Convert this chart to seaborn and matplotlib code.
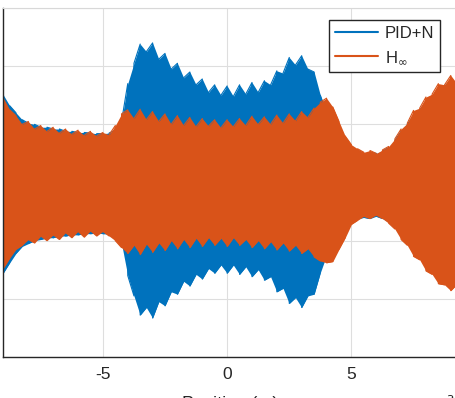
import numpy as np
import pandas as pd
import seaborn as sns
import matplotlib.pyplot as plt

# position (x 1e-3 m) and envelope of the two responses
pos = [-9.0, -8.75, -8.5, -8.25, -8.0, -7.75, -7.5, -7.25, -7.0, -6.75,
       -6.5, -6.25, -6.0, -5.75, -5.5, -5.25, -5.0, -4.75, -4.5, -4.25,
       -4.0, -3.75, -3.5, -3.25, -3.0, -2.75, -2.5, -2.25, -2.0, -1.75,
       -1.5, -1.25, -1.0, -0.75, -0.5, -0.25, 0.0, 0.25, 0.5, 0.75,
       1.0, 1.25, 1.5, 1.75, 2.0, 2.25, 2.5, 2.75, 3.0, 3.25,
       3.5, 3.75, 4.0, 4.25, 4.5, 4.75, 5.0, 5.25, 5.5, 5.75,
       6.0, 6.25, 6.5, 6.75, 7.0, 7.25, 7.5, 7.75, 8.0, 8.25,
       8.5, 8.75, 9.0, 9.25]

pid_upper = [1.50, 1.32, 1.20, 1.08, 1.02, 1.00, 0.95, 0.95, 0.92, 0.92,
             0.88, 0.88, 0.86, 0.86, 0.85, 0.84, 0.84, 0.85, 0.90, 1.05,
             1.70, 2.05, 2.38, 2.25, 2.40, 2.12, 2.22, 1.95, 2.05, 1.80,
             1.90, 1.68, 1.78, 1.55, 1.68, 1.50, 1.66, 1.48, 1.68, 1.52,
             1.72, 1.55, 1.75, 1.68, 1.92, 1.88, 2.15, 2.02, 2.18, 1.95,
             1.90, 1.50, 1.20, 1.00, 0.85, 0.72, 0.62, 0.55, 0.50, 0.52,
             0.50, 0.54, 0.60, 0.72, 0.88, 1.00, 1.15, 1.25, 1.38, 1.48,
             1.60, 1.66, 1.74, 1.65]
pid_lower = [-1.55, -1.38, -1.22, -1.10, -1.05, -1.00, -0.98, -0.95, -0.95, -0.92,
             -0.92, -0.90, -0.90, -0.88, -0.88, -0.87, -0.88, -0.88, -0.92, -1.05,
             -1.60, -1.95, -2.28, -2.15, -2.33, -2.05, -2.12, -1.88, -1.92, -1.70,
             -1.78, -1.58, -1.66, -1.48, -1.56, -1.42, -1.56, -1.42, -1.58, -1.45,
             -1.62, -1.50, -1.68, -1.62, -1.88, -1.82, -2.08, -1.98, -2.15, -1.95,
             -1.92, -1.55, -1.25, -1.05, -0.95, -0.85, -0.70, -0.63, -0.60, -0.62,
             -0.58, -0.62, -0.68, -0.78, -0.92, -1.05, -1.18, -1.28, -1.42, -1.52,
             -1.62, -1.70, -1.76, -1.68]

hinf_upper = [1.45, 1.25, 1.15, 1.00, 1.05, 0.92, 0.98, 0.88, 0.95, 0.85,
              0.92, 0.83, 0.90, 0.81, 0.88, 0.80, 0.86, 0.82, 0.98, 1.18,
              1.25, 1.10, 1.26, 1.08, 1.22, 1.05, 1.18, 1.00, 1.15, 0.98,
              1.12, 0.96, 1.10, 0.97, 1.08, 0.94, 1.08, 0.96, 1.10, 0.98,
              1.14, 1.00, 1.13, 1.00, 1.16, 1.02, 1.18, 1.06, 1.22, 1.12,
              1.28, 1.38, 1.45, 1.30, 1.05, 0.80, 0.65, 0.58, 0.52, 0.55,
              0.50, 0.56, 0.62, 0.75, 0.92, 1.02, 1.24, 1.28, 1.47, 1.52,
              1.70, 1.68, 1.84, 1.70]
hinf_lower = [-1.47, -1.30, -1.15, -1.08, -0.98, -1.04, -0.92, -1.00, -0.90, -0.98,
              -0.86, -0.95, -0.84, -0.94, -0.83, -0.92, -0.84, -0.92, -1.00, -1.12,
              -1.22, -1.08, -1.24, -1.06, -1.20, -1.04, -1.17, -1.00, -1.14, -0.98,
              -1.12, -0.96, -1.10, -0.95, -1.08, -0.96, -1.10, -0.95, -1.08, -0.98,
              -1.12, -1.00, -1.14, -1.02, -1.16, -1.04, -1.18, -1.08, -1.22, -1.14,
              -1.28, -1.35, -1.38, -1.36, -1.15, -0.95, -0.72, -0.65, -0.58, -0.62,
              -0.56, -0.62, -0.70, -0.80, -0.98, -1.08, -1.27, -1.33, -1.52, -1.58,
              -1.74, -1.76, -1.86, -1.75]

series = ["PID+N", r"H$_\infty$"]
colors = ["#0072BD", "#D95319"]
x_ticks = [-5, 0, 5]
y_ticks = [-3, -2, -1, 0, 1, 2, 3]


def zigzag(x, up, lo, name):
    # vertical stroke at every sample, alternating direction
    xs, ys = [], []
    for i in range(len(x)):
        pair = (up[i], lo[i]) if i % 2 == 0 else (lo[i], up[i])
        xs += [x[i], x[i]]
        ys += list(pair)
    return pd.DataFrame({"x": xs, "y": ys, "series": name})


df = pd.concat([zigzag(pos, pid_upper, pid_lower, series[0]),
                zigzag(pos, hinf_upper, hinf_lower, series[1])],
               ignore_index=True)

sns.set_style("white")
plt.rcParams["font.family"] = ["Liberation Sans", "DejaVu Sans"]

fig = plt.figure(figsize=(4.56, 3.98), dpi=100)
ax = fig.add_axes([3.5 / 456, 41 / 398, 453.5 / 456, 349 / 398])

sns.lineplot(data=df, x="x", y="y", hue="series", palette=colors,
             estimator=None, sort=False, linewidth=0.8, ax=ax)
ax.fill_between(pos, pid_lower, pid_upper, color=colors[0], lw=0, zorder=2.0)
ax.fill_between(pos, hinf_lower, hinf_upper, color=colors[1], lw=0, zorder=2.2)
ax.lines[0].set_zorder(2.1)
ax.lines[1].set_zorder(2.3)

ax.set_xlim(-9, 9.25)
ax.set_ylim(-3, 3)
ax.set_xticks(x_ticks)
ax.set_xticklabels(["-5", "0", "5"], fontsize=12.5, color="#262626")
ax.set_yticks(y_ticks)
ax.set_yticklabels([])
ax.tick_params(direction="in", length=4, width=0.8, color="#262626", pad=7)
ax.grid(True, color="#dedede", linewidth=0.8)
ax.set_axisbelow(True)

for side in ["left", "bottom"]:
    ax.spines[side].set_color("#262626")
    ax.spines[side].set_linewidth(1.0)
ax.spines["top"].set_color("#d8d8d8")
ax.spines["top"].set_linewidth(0.8)
ax.spines["right"].set_visible(False)

ax.set_xlabel("Position (m)", fontsize=13, color="#262626", labelpad=10)
ax.set_ylabel("")

handles, labels = ax.get_legend_handles_labels()
leg = ax.legend(handles, series, loc="upper right", fontsize=12,
                bbox_to_anchor=(440 / 456, 1 - 20 / 398),
                bbox_transform=fig.transFigure, borderaxespad=0,
                fancybox=False, framealpha=1, edgecolor="#262626",
                handlelength=2.6, handletextpad=0.4, borderpad=0.35,
                labelspacing=0.5)
leg.get_frame().set_linewidth(1.0)
for line in leg.get_lines():
    line.set_linewidth(1.5)

fig.text(454 / 456, -0.035, r"$\times10^{-3}$", ha="right", va="baseline",
         fontsize=12, color="#262626")

fig.savefig("out.png", dpi=100)
